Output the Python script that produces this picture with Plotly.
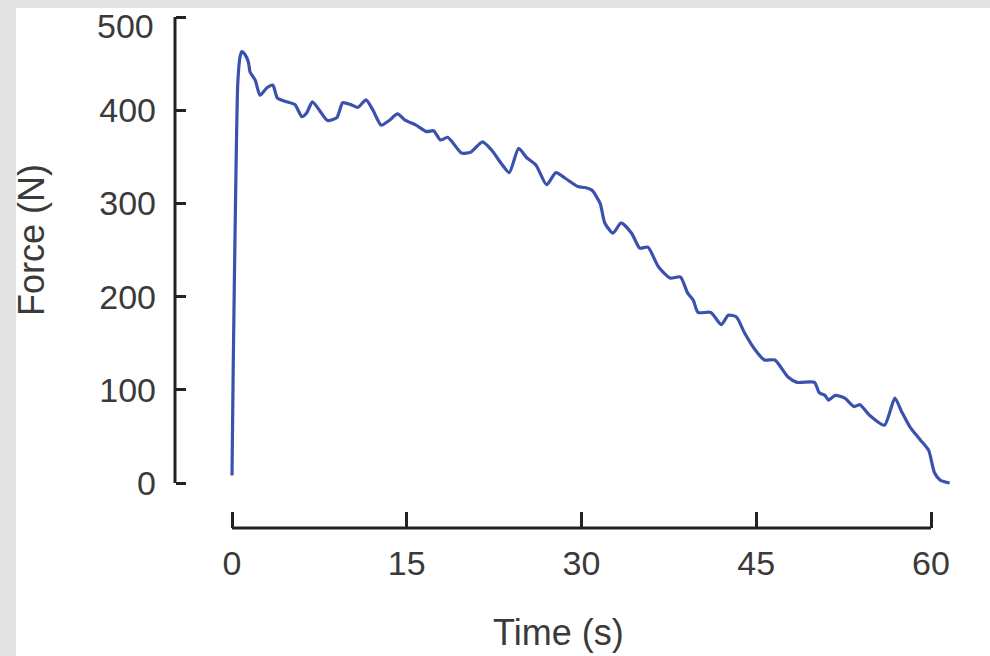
import plotly.graph_objects as go

# Force trace recorded over a ~60 s sustained contraction
time_s = [0.0, 0.1, 0.3, 0.5, 0.7, 0.85, 1.1, 1.4, 1.55, 2.0, 2.4, 3.0, 3.5, 3.9, 4.7, 5.4,
          6.0, 6.4, 6.9, 7.5, 8.2, 9.0, 9.5, 10.2, 10.8, 11.5, 12.1, 12.8, 13.5, 14.2,
          14.9, 15.8, 16.7, 17.3, 17.9, 18.5, 18.9, 19.7, 20.5, 21.5, 22.3, 23.1, 23.8,
          24.6, 25.3, 26.1, 27.0, 27.8, 28.6, 29.7, 30.3, 30.9, 31.6, 32.0, 32.7, 33.4,
          34.3, 35.0, 35.7, 36.6, 37.6, 38.5, 39.1, 39.6, 40.0, 41.1, 42.0, 42.6, 43.3,
          44.0, 44.9, 45.7, 46.6, 47.7, 48.5, 50.0, 50.4, 50.9, 51.2, 51.8, 52.6, 53.4,
          53.9, 54.7, 56.0, 56.9, 57.5, 58.2, 59.1, 59.8, 60.3, 60.8, 61.6]
force_n = [8, 120, 300, 430, 458, 463, 460, 452, 441, 432, 416, 424, 427, 413, 409, 406,
           393, 397, 409, 400, 389, 392, 408, 406, 403, 411, 400, 384, 389, 396,
           389, 384, 377, 378, 368, 371, 366, 354, 355, 366, 357, 343, 333,
           359, 349, 341, 320, 333, 327, 318, 317, 314, 300, 279, 268, 279,
           268, 252, 253, 232, 220, 221, 204, 196, 183, 183, 170, 180, 178,
           161, 143, 132, 132, 114, 108, 108, 97, 94, 89, 94, 91, 82,
           84, 73, 62, 91, 76, 60, 46, 35, 11, 3, 0]

x_ticks = [0, 15, 30, 45, 60]
y_ticks = [0, 100, 200, 300, 400, 500]

W, H = 990, 656
AXIS = "#222222"
TEXT = "#3a3a3a"
FONT = "Liberation Sans, Arial, sans-serif"
TICK_SIZE = 34

# pixel layout of the plotting frame
px_per_s = 11.65
x0_px = 232
x_dom = (200, 975)
px_per_n = 0.932
y0_px = 483
y_dom = (10, 495)

x_range = [(x_dom[0] - x0_px) / px_per_s, (x_dom[1] - x0_px) / px_per_s]
y_range = [(y0_px - y_dom[1]) / px_per_n, (y0_px - y_dom[0]) / px_per_n]

yaxis_x = 175 / W
xaxis_y = 1 - 528 / H

# the top y label is nudged down so it stays inside the card
y_ticktext = [str(v) for v in y_ticks[:-1]] + [""]

fig = go.Figure()
fig.add_trace(go.Scatter(
    x=time_s, y=force_n, mode="lines",
    line=dict(color="#3a52ad", width=3.2, shape="spline", smoothing=0.6),
    showlegend=False, hoverinfo="skip",
))

fig.update_layout(
    width=W, height=H,
    margin=dict(l=0, r=0, t=0, b=0, autoexpand=False),
    paper_bgcolor="#e4e4e4",
    plot_bgcolor="rgba(0,0,0,0)",
    font=dict(family=FONT, color=TEXT, size=TICK_SIZE),
    xaxis=dict(
        domain=[x_dom[0] / W, x_dom[1] / W], range=x_range,
        anchor="free", position=xaxis_y, automargin=False,
        tickmode="array", tickvals=x_ticks, ticktext=[str(v) for v in x_ticks],
        ticks="inside", ticklen=16, tickwidth=3, tickcolor=AXIS,
        showline=False, showgrid=False, zeroline=False,
        ticklabelstandoff=12, ticklabeloverflow="allow",
        tickfont=dict(size=TICK_SIZE, color=TEXT, family=FONT),
    ),
    yaxis=dict(
        domain=[1 - y_dom[1] / H, 1 - y_dom[0] / H], range=y_range,
        anchor="free", position=yaxis_x, automargin=False,
        tickmode="array", tickvals=y_ticks, ticktext=y_ticktext,
        ticks="inside", ticklen=10, tickwidth=3, tickcolor=AXIS,
        showline=False, showgrid=False, zeroline=False,
        ticklabelstandoff=19, ticklabeloverflow="allow",
        tickfont=dict(size=TICK_SIZE, color=TEXT, family=FONT),
    ),
    shapes=[
        # white card behind the chart
        dict(type="rect", xref="paper", yref="paper", layer="below",
             x0=16 / W, x1=1.05, y0=-0.05, y1=1 - 8 / H,
             fillcolor="white", line=dict(width=0)),
        # detached axis lines
        dict(type="line", xref="paper", yref="y",
             x0=yaxis_x, x1=yaxis_x, y0=y_ticks[0], y1=y_ticks[-1],
             line=dict(color=AXIS, width=3)),
        dict(type="line", xref="x", yref="paper",
             x0=x_ticks[0], x1=x_ticks[-1], y0=xaxis_y, y1=xaxis_y,
             line=dict(color=AXIS, width=3)),
    ],
    annotations=[
        dict(text=str(y_ticks[-1]), xref="paper", yref="y",
             x=156 / W, y=y_ticks[-1], yshift=-9, showarrow=False,
             xanchor="right", yanchor="middle",
             font=dict(size=TICK_SIZE, color=TEXT, family=FONT)),
        dict(text="Time (s)", xref="paper", yref="paper",
             x=558 / W, y=1 - 632 / H, showarrow=False,
             xanchor="center", yanchor="middle",
             font=dict(size=36, color=TEXT, family=FONT)),
        dict(text="Force (N)", xref="paper", yref="paper",
             x=31 / W, y=1 - 240 / H, showarrow=False, textangle=-90,
             xanchor="center", yanchor="middle",
             font=dict(size=36, color=TEXT, family=FONT)),
    ],
)

fig.write_html("out.html")
